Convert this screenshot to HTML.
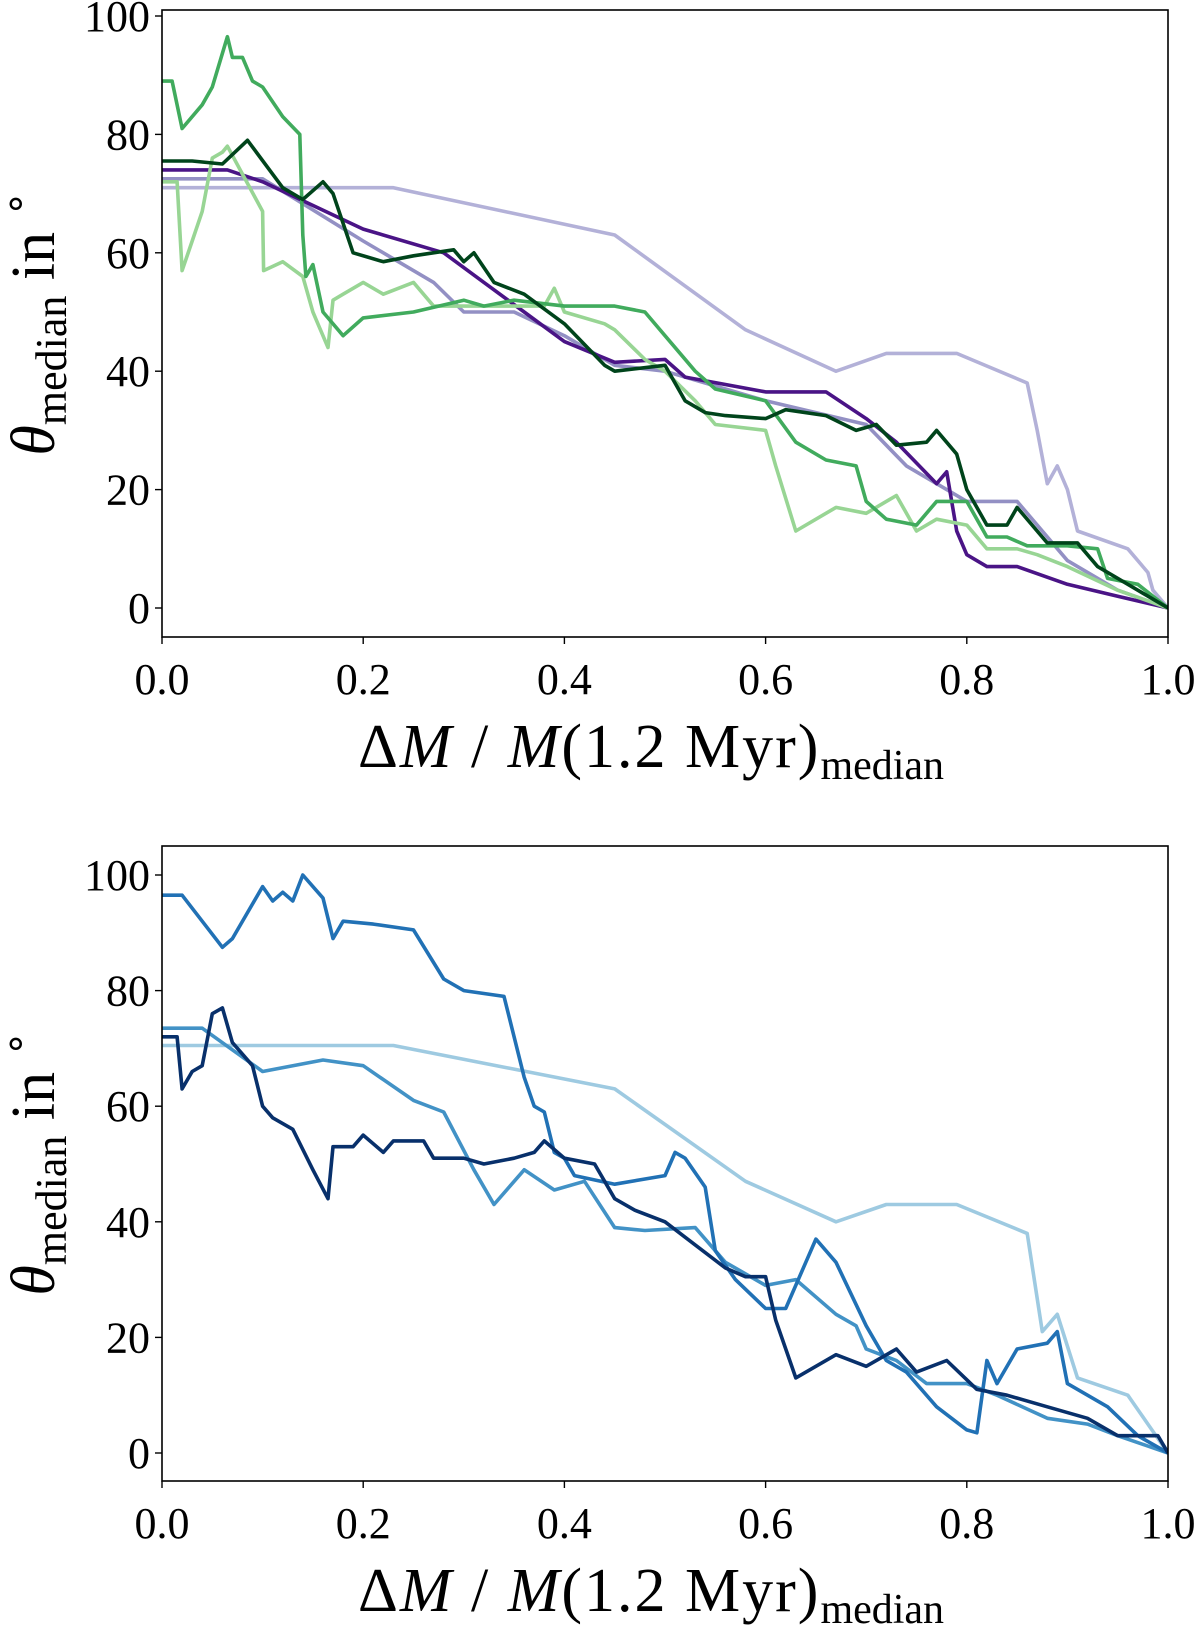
<!DOCTYPE html>
<html><head><meta charset="utf-8">
<style>
html,body{margin:0;padding:0;background:#fff;}
svg{display:block;}
text{font-family:"Liberation Serif",serif;fill:#000;}
</style></head>
<body>
<svg id="fig" width="1200" height="1627" viewBox="0 0 1200 1627" xmlns="http://www.w3.org/2000/svg"></svg>
<script>
// ---- data: x = ΔM/M, y = theta median ----
const xTicks = [0.0, 0.2, 0.4, 0.6, 0.8, 1.0];
const yTicks = [0, 20, 40, 60, 80, 100];

const topLavenderX = [0,0.23,0.45,0.58,0.67,0.72,0.79,0.86,0.87,0.88,0.89,0.9,0.91,0.96,0.98,0.985,1];
const topLavenderY = [71,71,63,47,40,43,43,38,30,21,24,20,13,10,6,3,0];
const topMidPurpleX = [0,0.1,0.2,0.27,0.3,0.35,0.4,0.45,0.5,0.6,0.7,0.74,0.78,0.8,0.85,0.87,0.9,0.95,1];
const topMidPurpleY = [72.5,72.5,62,55,50,50,46,41,40,35,31,24,20,18,18,14,8,3,0];
const topPurpleX = [0,0.065,0.1,0.2,0.28,0.32,0.36,0.4,0.45,0.5,0.52,0.6,0.66,0.7,0.73,0.77,0.78,0.79,0.8,0.82,0.85,0.9,0.95,1];
const topPurpleY = [74,74,72,64,60,55,50,45,41.5,42,39,36.5,36.5,32,28,21,23,13,9,7,7,4,2,0];
const topDarkGreenX = [0,0.03,0.06,0.085,0.12,0.14,0.16,0.17,0.19,0.22,0.25,0.29,0.3,0.31,0.33,0.36,0.4,0.44,0.45,0.5,0.52,0.54,0.56,0.6,0.62,0.66,0.69,0.71,0.73,0.76,0.77,0.79,0.8,0.82,0.84,0.85,0.88,0.91,0.93,0.96,1];
const topDarkGreenY = [75.5,75.5,75,79,71,69,72,70,60,58.5,59.5,60.5,58.5,60,55,53,48,41,40,41,35,33,32.5,32,33.5,32.5,30,31,27.5,28,30,26,20,14,14,17,11,11,7,4,0];
const topGreenX = [0,0.01,0.02,0.04,0.05,0.065,0.07,0.08,0.09,0.1,0.12,0.137,0.14,0.143,0.15,0.16,0.18,0.2,0.25,0.3,0.32,0.35,0.4,0.45,0.48,0.5,0.53,0.55,0.6,0.63,0.66,0.69,0.7,0.72,0.75,0.77,0.8,0.82,0.84,0.86,0.9,0.93,0.94,0.97,1];
const topGreenY = [89,89,81,85,88,96.5,93,93,89,88,83,80,63,56,58,50,46,49,50,52,51,52,51,51,50,46,40,37,35,28,25,24,18,15,14,18,18,12,12,10.5,10.5,10,5,4,0];
const topLightGreenX = [0,0.015,0.02,0.03,0.04,0.05,0.06,0.065,0.1,0.101,0.12,0.14,0.15,0.155,0.165,0.17,0.18,0.2,0.22,0.25,0.27,0.3,0.35,0.38,0.39,0.4,0.44,0.45,0.48,0.5,0.53,0.55,0.6,0.61,0.63,0.67,0.7,0.73,0.75,0.77,0.8,0.82,0.85,0.87,0.9,0.95,1];
const topLightGreenY = [72,72,57,62,67,76,77,78,67,57,58.5,56,50,48,44,52,53,55,53,55,51,51,51,51,54,50,48,47,42,40,35,31,30,24,13,17,16,19,13,15,14,10,10,9,7,3,0];

const botLightBlueX = [0,0.23,0.45,0.58,0.67,0.72,0.79,0.86,0.875,0.89,0.91,0.96,0.98,1];
const botLightBlueY = [70.5,70.5,63,47,40,43,43,38,21,24,13,10,5,0];
const botMidBlueX = [0,0.04,0.1,0.16,0.2,0.25,0.28,0.31,0.33,0.36,0.39,0.42,0.45,0.48,0.53,0.56,0.6,0.63,0.67,0.69,0.7,0.73,0.76,0.8,0.83,0.88,0.92,0.95,1];
const botMidBlueY = [73.5,73.5,66,68,67,61,59,49,43,49,45.5,47,39,38.5,39,33,29,30,24,22,18,16,12,12,10,6,5,3,0];
const botBlueX = [0,0.02,0.06,0.07,0.1,0.11,0.12,0.13,0.14,0.16,0.17,0.18,0.21,0.25,0.28,0.3,0.34,0.35,0.36,0.37,0.38,0.39,0.4,0.41,0.45,0.5,0.51,0.52,0.54,0.55,0.57,0.6,0.62,0.64,0.65,0.67,0.7,0.72,0.74,0.77,0.8,0.81,0.82,0.83,0.85,0.88,0.89,0.9,0.92,0.94,0.97,1];
const botBlueY = [96.5,96.5,87.5,89,98,95.5,97,95.5,100,96,89,92,91.5,90.5,82,80,79,72,65,60,59,52,51,48,46.5,48,52,51,46,35,30,25,25,33,37,33,22,16,14,8,4,3.5,16,12,18,19,21,12,10,8,3,0];
const botNavyX = [0,0.015,0.02,0.03,0.04,0.05,0.06,0.07,0.09,0.1,0.11,0.13,0.15,0.165,0.17,0.19,0.2,0.22,0.23,0.26,0.27,0.3,0.32,0.35,0.37,0.38,0.4,0.43,0.45,0.47,0.5,0.53,0.56,0.58,0.6,0.61,0.63,0.67,0.7,0.73,0.75,0.78,0.81,0.84,0.88,0.92,0.95,0.99,1];
const botNavyY = [72,72,63,66,67,76,77,71,67,60,58,56,49,44,53,53,55,52,54,54,51,51,50,51,52,54,51,50,44,42,40,36,32,30.5,30.5,23,13,17,15,18,14,16,11,10,8,6,3,3,0];

// ---- drawing ----
const NS = "http://www.w3.org/2000/svg";
const svg = document.getElementById('fig');
function mk(tag, attrs, parent){
  const e = document.createElementNS(NS, tag);
  for (const k in attrs) e.setAttribute(k, attrs[k]);
  (parent||svg).appendChild(e);
  return e;
}

function panel(name, box, series){
  const g = mk('g', {});
  
  
  const sx = v => box.x0 + (box.x1 - box.x0) * v;
  const sy = v => box.y0 + (box.y100 - box.y0) * v / 100;

  const clipId = name + '-clip';
  const cp = mk('clipPath', {id: clipId}, g);
  mk('rect', {x: box.x0, y: box.top, width: box.x1 - box.x0, height: box.bottom - box.top}, cp);

  const lg = mk('g', {'clip-path': 'url(#' + clipId + ')'}, g);
  series.forEach(s => {
    const d = s.x.map((v, i) => (i ? 'L' : 'M') + sx(v).toFixed(1) + ' ' + sy(s.y[i]).toFixed(1)).join(' ');
    const p = mk('path', {d: d, fill: 'none', stroke: s.c, 'stroke-width': 3.6, 'stroke-linejoin': 'round'}, lg);
    
    
  });

  const frame = mk('rect', {x: box.x0, y: box.top, width: box.x1 - box.x0, height: box.bottom - box.top, fill: 'none', stroke: '#000', 'stroke-width': 1.6}, g);
  
  

  xTicks.forEach(t => {
    mk('line', {x1: sx(t), x2: sx(t), y1: box.bottom, y2: box.bottom + 7, stroke: '#000', 'stroke-width': 1.4}, g);
    const tx = mk('text', {x: sx(t), y: box.bottom + 57, 'font-size': 44, 'text-anchor': 'middle'}, g);
    tx.textContent = t.toFixed(1);
    
    
  });
  yTicks.forEach(t => {
    mk('line', {x1: box.x0 - 7, x2: box.x0, y1: sy(t), y2: sy(t), stroke: '#000', 'stroke-width': 1.4}, g);
    const tx = mk('text', {x: box.x0 - 12, y: sy(t) + 15, 'font-size': 44, 'text-anchor': 'end'}, g);
    tx.textContent = String(t);
    
    
  });

  const xl = mk('text', {x: (box.x0 + box.x1) / 2 - 14, y: box.bottom + 130, 'font-size': 62, 'text-anchor': 'middle', 'letter-spacing': 2}, g);
  
  
  xl.innerHTML = '<tspan>Δ</tspan><tspan font-style="italic">M</tspan><tspan> / </tspan><tspan font-style="italic">M</tspan><tspan>(1.2 Myr)</tspan><tspan font-size="42" dy="12" letter-spacing="0">median</tspan>';

  const cy = (box.top + box.bottom) / 2;
  const yl = mk('text', {x: 0, y: 0, 'font-size': 62, 'text-anchor': 'middle', transform: 'translate(54,' + cy + ') rotate(-90)'}, g);
  
  
  yl.innerHTML = '<tspan font-style="italic">θ</tspan><tspan font-size="44" dy="12">median</tspan><tspan dy="-12"> in </tspan><tspan dy="-26" font-size="40">∘</tspan>';
}

panel('top-panel', {x0: 162, x1: 1168, top: 10, bottom: 637, y0: 608, y100: 16}, [
  {n: 'series-lavender', c: '#b3b1d8', x: topLavenderX, y: topLavenderY},
  {n: 'series-mid-purple', c: '#9390c4', x: topMidPurpleX, y: topMidPurpleY},
  {n: 'series-purple', c: '#4a1486', x: topPurpleX, y: topPurpleY},
  {n: 'series-light-green', c: '#98d594', x: topLightGreenX, y: topLightGreenY},
  {n: 'series-green', c: '#41ab5d', x: topGreenX, y: topGreenY},
  {n: 'series-dark-green', c: '#00441b', x: topDarkGreenX, y: topDarkGreenY}
]);
panel('bottom-panel', {x0: 162, x1: 1168, top: 846, bottom: 1481, y0: 1453, y100: 875}, [
  {n: 'series-light-blue', c: '#9ecae1', x: botLightBlueX, y: botLightBlueY},
  {n: 'series-mid-blue', c: '#4292c6', x: botMidBlueX, y: botMidBlueY},
  {n: 'series-blue', c: '#2171b5', x: botBlueX, y: botBlueY},
  {n: 'series-navy', c: '#08306b', x: botNavyX, y: botNavyY}
]);
</script>
</body></html>
